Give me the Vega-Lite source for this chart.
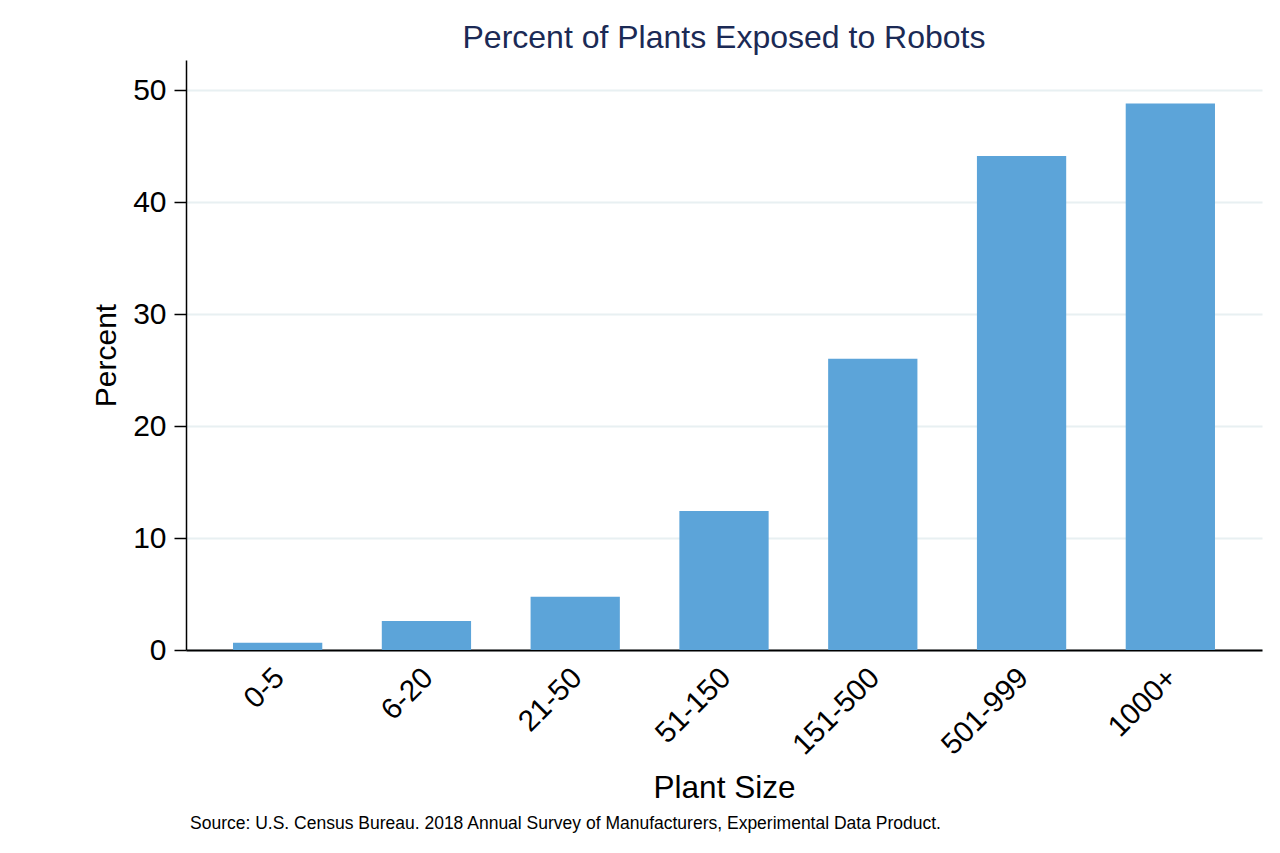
{
  "$schema": "https://vega.github.io/schema/vega-lite/v6.json",
  "autosize": {"type": "pad"},
  "padding": {"left": 91, "top": 22, "right": 10, "bottom": 10},
  "background": "white",
  "bounds": "flush",
  "title": {
    "text": "Source: U.S. Census Bureau. 2018 Annual Survey of Manufacturers, Experimental Data Product.",
    "orient": "bottom",
    "anchor": "start",
    "frame": "group",
    "font": "Liberation Sans",
    "fontSize": 17.5,
    "fontWeight": "normal",
    "color": "black",
    "dx": 4,
    "offset": 11
  },
  "data": {
    "values": [
      {"size": "0-5", "percent": 0.65},
      {"size": "6-20", "percent": 2.6},
      {"size": "21-50", "percent": 4.75},
      {"size": "51-150", "percent": 12.4},
      {"size": "151-500", "percent": 26.0},
      {"size": "501-999", "percent": 44.1},
      {"size": "1000+", "percent": 48.8}
    ]
  },
  "vconcat": [
    {
      "width": 1076,
      "height": 590,
      "title": {
        "text": "Percent of Plants Exposed to Robots",
        "anchor": "middle",
        "frame": "group",
        "font": "Liberation Sans",
        "fontSize": 32,
        "fontWeight": "normal",
        "color": "#1b2a55",
        "baseline": "alphabetic",
        "offset": -20
      },
      "mark": {"type": "bar", "color": "#5ca4d9"},
      "encoding": {
        "x": {
          "field": "size",
          "type": "ordinal",
          "sort": null,
          "scale": {"paddingInner": 0.4, "paddingOuter": 0.316},
          "axis": {
            "title": "Plant Size",
            "titleFontSize": 31.5,
            "titleFontWeight": "normal",
            "titleBaseline": "alphabetic",
            "titleY": 147,
            "labelAngle": -45,
            "labelFontSize": 29.5,
            "labelPadding": 13,
            "labelOffset": -8,
            "ticks": false,
            "domainColor": "black",
            "domainWidth": 2
          }
        },
        "y": {
          "field": "percent",
          "type": "quantitative",
          "scale": {"domain": [0, 52.68], "nice": false},
          "axis": {
            "title": "Percent",
            "titleFontSize": 30,
            "titleFontWeight": "normal",
            "titleBaseline": "alphabetic",
            "titleX": -71,
            "titleY": 295,
            "values": [0, 10, 20, 30, 40, 50],
            "labelFontSize": 30,
            "labelPadding": 8,
            "tickSize": 12,
            "tickWidth": 1.5,
            "tickColor": "black",
            "domainColor": "black",
            "domainWidth": 1.5,
            "grid": true,
            "gridColor": "#e8f0f2",
            "gridWidth": 2
          }
        }
      }
    }
  ],
  "config": {
    "font": "Liberation Sans",
    "view": {"stroke": null},
    "axis": {
      "labelFont": "Liberation Sans",
      "titleFont": "Liberation Sans",
      "labelColor": "black",
      "titleColor": "black"
    }
  }
}
